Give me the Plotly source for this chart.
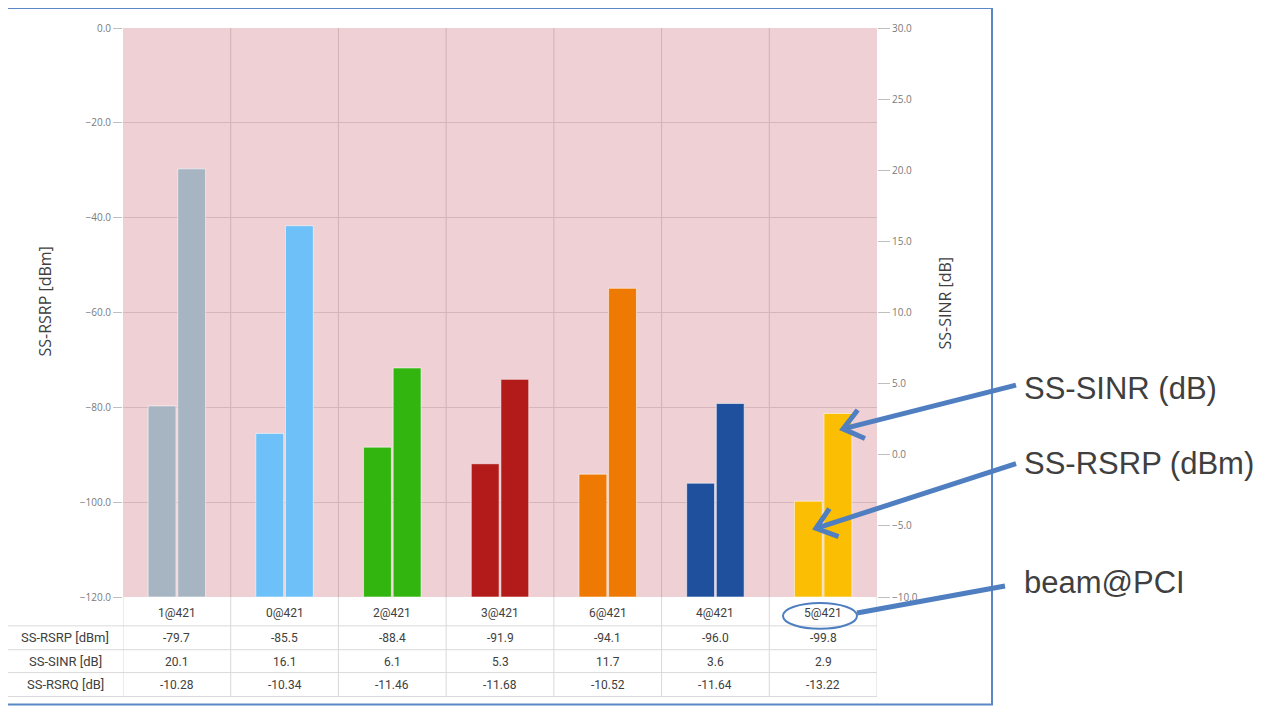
import math
import plotly.graph_objects as go

# ---------------- data ----------------
categories = ["1@421", "0@421", "2@421", "3@421", "6@421", "4@421", "5@421"]
ss_rsrp = [-79.7, -85.5, -88.4, -91.9, -94.1, -96.0, -99.8]
ss_sinr = [20.1, 16.1, 6.1, 5.3, 11.7, 3.6, 2.9]
ss_rsrq = [-10.28, -10.34, -11.46, -11.68, -10.52, -11.64, -13.22]
row_labels = ["SS-RSRP [dBm]", "SS-SINR [dB]", "SS-RSRQ [dB]"]
rsrp_range = [-120, 0]
sinr_range = [-10, 30]
bar_colors = ["#A7B5C3", "#6DC1F8", "#33B50F", "#B31B1B", "#EE7A04", "#1F509E", "#FBBE02"]
callouts = ["SS-SINR (dB)", "SS-RSRP (dBm)", "beam@PCI"]

# ---------------- geometry helpers (page pixel -> paper) ----------------
BODY = 8  # default page margin around the plotly div
W_PAGE, H_PAGE = 1277, 709
W_FIG, H_FIG = W_PAGE - BODY, H_PAGE - BODY
L, R, T, B = 123, 877, 25, 597   # plot area in page pixels
PW, PH = R - L, B - T


def px(x):
    return (x - L) / PW


def py(y):
    return (B - y) / PH


fig = go.Figure()
fig.add_trace(go.Bar(
    x=categories, y=[v - rsrp_range[0] for v in ss_rsrp], base=rsrp_range[0],
    marker=dict(color=bar_colors, line=dict(color="rgba(255,255,255,0.55)", width=1)),
    offsetgroup="rsrp", yaxis="y", name="SS-RSRP", showlegend=False,
))
fig.add_trace(go.Bar(
    x=categories, y=[v - sinr_range[0] for v in ss_sinr], base=sinr_range[0],
    marker=dict(color=bar_colors, line=dict(color="rgba(255,255,255,0.55)", width=1)),
    offsetgroup="sinr", yaxis="y2", name="SS-SINR", showlegend=False,
))

tickfont = dict(family="Open Sans", size=10, color="#7A7A7A")
fig.update_layout(
    width=W_FIG, height=H_FIG,
    margin=dict(l=L - BODY, r=W_FIG - (R - BODY), t=T - BODY, b=H_FIG - (B - BODY)),
    paper_bgcolor="white", plot_bgcolor="#EFD0D4",
    barmode="group", bargap=0.45, bargroupgap=0.06,
    xaxis=dict(type="category", range=[-0.5, 6.5], showticklabels=False,
               showgrid=False, zeroline=False, showline=False, ticks=""),
    yaxis=dict(range=rsrp_range, dtick=20, tickformat=".1f", ticks="outside",
               ticklen=9, tickcolor="#BFBFBF", tickfont=tickfont,
               showgrid=True, gridcolor="#D6B6BA", gridwidth=1,
               zeroline=False, showline=False),
    yaxis2=dict(range=sinr_range, dtick=5, tickformat=".1f", ticks="outside",
                ticklen=12, tickcolor="#BFBFBF", tickfont=tickfont,
                overlaying="y", side="right", showgrid=False,
                zeroline=False, showline=False),
)

shapes = []
# category separators inside plot
for i in range(len(categories) - 1):
    shapes.append(dict(type="line", xref="x", yref="paper", x0=i + 0.5, x1=i + 0.5,
                       y0=0, y1=1, line=dict(color="#D3B2B6", width=1), layer="below"))
# table vertical lines
for i in range(len(categories) + 1):
    shapes.append(dict(type="line", xref="x", yref="paper", x0=i - 0.5, x1=i - 0.5,
                       y0=py(697), y1=py(597), line=dict(color="#D9D9D9", width=1)))
# table horizontal lines
for yy in [626, 650, 673, 697]:
    shapes.append(dict(type="line", xref="paper", yref="paper", x0=px(8), x1=px(877),
                       y0=py(yy), y1=py(yy), line=dict(color="#D9D9D9", width=1)))
# blue outer frame
shapes.append(dict(type="rect", xref="paper", yref="paper", x0=px(7), x1=px(992),
                   y0=py(705), y1=py(5), line=dict(color="#5A87C6", width=2)))
# ellipse round last category label
shapes.append(dict(type="circle", xref="paper", yref="paper", x0=px(783), x1=px(857),
                   y0=py(629), y1=py(603), line=dict(color="#4F7FC0", width=2)))

ARROW = "#4F7FC0"


def arrow(tail, tip, head=True):
    (sx, sy), (tx, ty) = tail, tip
    shapes.append(dict(type="line", xref="paper", yref="paper",
                       x0=px(sx), y0=py(sy), x1=px(tx), y1=py(ty),
                       line=dict(color=ARROW, width=5)))
    if head:
        dx, dy = sx - tx, sy - ty
        n = math.hypot(dx, dy)
        ux, uy = dx / n, dy / n
        pts = []
        for ang in (math.radians(38), math.radians(-38)):
            rx = ux * math.cos(ang) - uy * math.sin(ang)
            ry = ux * math.sin(ang) + uy * math.cos(ang)
            pts.append((tx + 24 * rx, ty + 24 * ry))
        path = "M {:.5f},{:.5f} L {:.5f},{:.5f} L {:.5f},{:.5f}".format(
            px(pts[0][0]), py(pts[0][1]), px(tx), py(ty), px(pts[1][0]), py(pts[1][1]))
        shapes.append(dict(type="path", xref="paper", yref="paper", path=path,
                           line=dict(color=ARROW, width=5)))


arrow((1016, 384), (843, 428))
arrow((1016, 463), (816, 528))
arrow((1005, 586), (857, 613), head=False)

fig.update_layout(shapes=shapes)

ann = []
title_font = dict(family="Open Sans", size=16, color="#404040")
# axis titles
ann.append(dict(text="SS-RSRP [dBm]", xref="paper", yref="paper", x=px(45), y=py(300),
                xanchor="center", yanchor="middle", textangle=-90, showarrow=False,
                font=title_font))
ann.append(dict(text="SS-SINR [dB]", xref="paper", yref="paper", x=px(945), y=py(302),
                xanchor="center", yanchor="middle", textangle=-90, showarrow=False,
                font=title_font))
# table
cell_font = dict(family="Roboto", size=12, color="#404040")
for i, c in enumerate(categories):
    ann.append(dict(text=c, xref="x", yref="paper", x=i, y=py(613), showarrow=False,
                    xanchor="center", yanchor="middle", font=cell_font))
rows = [
    [f"{v:.1f}" for v in ss_rsrp],
    [f"{v:.1f}" for v in ss_sinr],
    [f"{v:.2f}" for v in ss_rsrq],
]
row_y = [638, 662, 685]
for lab, vals, yy in zip(row_labels, rows, row_y):
    ann.append(dict(text=lab, xref="paper", yref="paper", x=px(65), y=py(yy),
                    xanchor="center", yanchor="middle", showarrow=False,
                    font=dict(family="Roboto", size=13, color="#404040")))
    for i, v in enumerate(vals):
        ann.append(dict(text=v, xref="x", yref="paper", x=i, y=py(yy), showarrow=False,
                        xanchor="center", yanchor="middle", font=cell_font))
# callout texts
for txt, yy in zip(callouts, [387, 463, 582]):
    ann.append(dict(text=txt, xref="paper", yref="paper", x=px(1022), y=py(yy),
                    xanchor="left", yanchor="middle", showarrow=False,
                    font=dict(family="Liberation Sans", size=31, color="#3F3F3F")))
fig.update_layout(annotations=ann)

fig.write_html("out.html")
